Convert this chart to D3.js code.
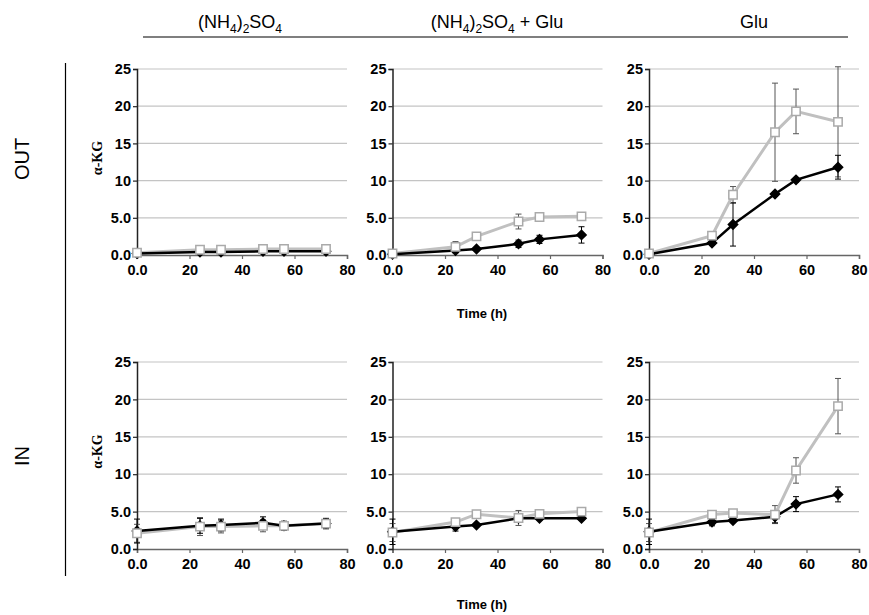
<!DOCTYPE html>
<html>
<head>
<meta charset="utf-8">
<script src="https://cdn.jsdelivr.net/npm/d3@7"></script>
<style>
  body { margin: 0; background: #fff; }
  svg { display: block; }
</style>
</head>
<body>
<div id="chart"></div>
<script>
// sampling times (h) and axis ticks
const times = [0, 24, 32, 48, 56, 72];
const xTicks = [0, 20, 40, 60, 80];
const yTicks = [0, 5, 10, 15, 20, 25];
const colHeaders = ["(NH4)2SO4", "(NH4)2SO4 + Glu", "Glu"];
const rowLabels = ["OUT", "IN"];

// OUT row
const outNH4Black = [0.2, 0.4, 0.4, 0.5, 0.5, 0.5];
const outNH4BlackErr = [0.05, 0.1, 0.1, 0.1, 0.1, 0.1];
const outNH4Grey = [0.3, 0.7, 0.7, 0.8, 0.8, 0.8];
const outNH4GreyErr = [0.05, 0.1, 0.1, 0.1, 0.1, 0.1];

const outMixBlack = [0.1, 0.6, 0.8, 1.5, 2.1, 2.7];
const outMixBlackErr = [0.05, 0.3, 0.2, 0.5, 0.55, 1.1];
const outMixGrey = [0.2, 1.1, 2.5, 4.5, 5.1, 5.2];
const outMixGreyErr = [0.05, 0.7, 0.2, 1.0, 0.2, 0.2];

const outGluBlack = [0.1, 1.6, 4.1, 8.2, 10.1, 11.8];
const outGluBlackErr = [0.05, 0.3, 2.9, 0.3, 0.3, 1.6];
const outGluGrey = [0.2, 2.6, 8.1, 16.5, 19.3, 17.9];
const outGluGreyErr = [0.05, 0.3, 1.1, 6.6, 3.0, 7.4];

// IN row
const inNH4Black = [2.4, 3.1, 3.2, 3.5, 3.1, 3.4];
const inNH4BlackErr = [1.6, 1.0, 0.8, 0.8, 0.6, 0.7];
const inNH4Grey = [2.1, 3.0, 3.0, 3.1, 3.1, 3.4];
const inNH4GreyErr = [1.2, 1.2, 0.85, 0.8, 0.6, 0.6];

const inMixBlack = [2.3, 3.0, 3.2, 4.1, 4.1, 4.1];
const inMixBlackErr = [1.7, 0.6, 0.2, 0.3, 0.2, 0.2];
const inMixGrey = [2.2, 3.6, 4.65, 4.15, 4.7, 5.0];
const inMixGreyErr = [1.2, 0.3, 0.2, 1.0, 0.2, 0.2];

const inGluBlack = [2.3, 3.6, 3.8, 4.3, 6.0, 7.3];
const inGluBlackErr = [1.7, 0.5, 0.2, 0.8, 1.0, 1.0];
const inGluGrey = [2.2, 4.6, 4.8, 4.6, 10.5, 19.1];
const inGluGreyErr = [1.2, 0.3, 0.2, 1.2, 1.7, 3.7];

const panels = [
    [[outNH4Black, outNH4BlackErr, outNH4Grey, outNH4GreyErr],
     [outMixBlack, outMixBlackErr, outMixGrey, outMixGreyErr],
     [outGluBlack, outGluBlackErr, outGluGrey, outGluGreyErr]],
    [[inNH4Black, inNH4BlackErr, inNH4Grey, inNH4GreyErr],
     [inMixBlack, inMixBlackErr, inMixGrey, inMixGreyErr],
     [inGluBlack, inGluBlackErr, inGluGrey, inGluGreyErr]]
];

const width = 869, height = 615;
const colX = [137, 392.5, 649];
const plotW = 210;
const rowY = [{top: 69, bottom: 255}, {top: 362, bottom: 549}];
const sans = "Liberation Sans, Arial, sans-serif";

const svg = d3.select("#chart").append("svg")
    .attr("width", width)
    .attr("height", height);

// column headers, digits in the salt formula are subscripts
const headerX = [240, 497, 754];
colHeaders.forEach((h, i) => {
    let t = svg.append("text")
        .attr("x", headerX[i])
        .attr("y", 28)
        .attr("text-anchor", "middle")
        .attr("font-family", sans)
        .attr("font-size", 18);
    if (h.startsWith("(NH4)2SO4")) {
        let pieces = [["(NH", 0], ["4", 1], [")", 0], ["2", 1], ["SO", 0], ["4", 1]];
        let rest = h.replace("(NH4)2SO4", "");
        if (rest) pieces.push([rest, 0]);
        let down = false;
        pieces.forEach(p => {
            let dy = 0;
            if (p[1] && !down) { dy = 5; down = true; }
            else if (!p[1] && down) { dy = -5; down = false; }
            t.append("tspan")
                .attr("font-size", p[1] ? 12 : 18)
                .attr("dy", dy)
                .text(p[0]);
        });
    } else {
        t.text(h);
    }
});

svg.append("line")
    .attr("x1", 143).attr("x2", 848)
    .attr("y1", 37).attr("y2", 37)
    .attr("stroke", "#000").attr("stroke-width", 1.2);

// row labels and divider
svg.append("line")
    .attr("x1", 65.5).attr("x2", 65.5)
    .attr("y1", 63).attr("y2", 576)
    .attr("stroke", "#000").attr("stroke-width", 1.2);

const rowLabelY = [159, 456];
rowLabels.forEach((r, i) => {
    svg.append("text")
        .attr("transform", `translate(29, ${rowLabelY[i]}) rotate(-90)`)
        .attr("text-anchor", "middle")
        .attr("font-family", sans)
        .attr("font-size", 20)
        .text(r);
});

panels.forEach((row, ri) => {
    row.forEach((p, ci) => {
        let x = d3.scaleLinear().domain([0, 80]).range([colX[ci], colX[ci] + plotW]);
        let y = d3.scaleLinear().domain([0, 25]).range([rowY[ri].bottom, rowY[ri].top]);
        let g = svg.append("g");

        // gridlines
        g.selectAll(".grid")
            .data(yTicks.filter(v => v > 0))
            .enter().append("line")
            .attr("x1", x(0)).attr("x2", x(80))
            .attr("y1", d => y(d)).attr("y2", d => y(d))
            .attr("stroke", "#c4c4c4").attr("stroke-width", 1.2);

        // x axis
        let xAxis = d3.axisBottom(x).tickValues(xTicks).tickSize(4).tickPadding(6)
            .tickFormat(d => d === 0 ? "0.0" : d);
        let xg = g.append("g")
            .attr("transform", `translate(0, ${y(0)})`)
            .call(xAxis);
        xg.select(".domain").attr("stroke", "#666").attr("stroke-width", 1.5);
        xg.selectAll(".tick line").attr("stroke", "#666").attr("stroke-width", 1.2);
        xg.selectAll("text")
            .attr("font-family", sans)
            .attr("font-weight", "bold")
            .attr("font-size", 14.5)
            .attr("fill", "#000");

        // y axis
        let yAxis = d3.axisLeft(y).tickValues(yTicks).tickSize(4).tickPadding(2)
            .tickFormat(d => d < 10 ? d.toFixed(1) : d);
        let yg = g.append("g")
            .attr("transform", `translate(${x(0)}, 0)`)
            .call(yAxis);
        yg.select(".domain").attr("stroke", "#222").attr("stroke-width", 1.5);
        yg.selectAll(".tick line").attr("stroke", "#222").attr("stroke-width", 1.2);
        yg.selectAll("text")
            .attr("font-family", sans)
            .attr("font-weight", "bold")
            .attr("font-size", 14.5)
            .attr("fill", "#000");

        if (ci === 0) {
            let cy = (rowY[ri].top + rowY[ri].bottom) / 2 - 4;
            svg.append("text")
                .attr("transform", `translate(102, ${cy}) rotate(-90)`)
                .attr("text-anchor", "middle")
                .attr("font-family", "Liberation Serif, Times New Roman, serif")
                .attr("font-weight", "bold")
                .attr("font-size", 14)
                .text("α-KG");
        }

        let [bv, be, gv, ge] = p;
        let series = [
            {vals: gv, err: ge, color: "#c0c0c0", errColor: "#555", lw: 3, sym: "square"},
            {vals: bv, err: be, color: "#000", errColor: "#000", lw: 2.5, sym: "diamond"}
        ];
        let line = d3.line().x((d, i) => x(times[i])).y(d => y(d));

        // error bars
        series.forEach(s => {
            let eb = g.append("g");
            s.vals.forEach((v, i) => {
                let cx = x(times[i]);
                let top = y(Math.min(25.5, v + s.err[i])), bot = y(Math.max(0, v - s.err[i]));
                eb.append("line").attr("x1", cx).attr("x2", cx).attr("y1", top).attr("y2", bot)
                    .attr("stroke", s.errColor).attr("stroke-width", 1);
                [top, bot].forEach(yy => {
                    eb.append("line").attr("x1", cx - 3).attr("x2", cx + 3).attr("y1", yy).attr("y2", yy)
                        .attr("stroke", s.errColor).attr("stroke-width", 1);
                });
            });
        });

        // lines
        series.forEach(s => {
            g.append("path")
                .datum(s.vals)
                .attr("d", line)
                .attr("fill", "none")
                .attr("stroke", s.color)
                .attr("stroke-width", s.lw);
        });

        // markers: diamonds then squares on top
        series.slice().reverse().forEach(s => {
            let sym = s.sym === "square"
                ? d3.symbol().type(d3.symbolSquare).size(70)
                : d3.symbol().type(d3.symbolDiamond2).size(55);
            g.selectAll(null)
                .data(s.vals)
                .enter().append("path")
                .attr("d", sym)
                .attr("transform", (d, i) => `translate(${x(times[i])}, ${y(d)})`)
                .attr("fill", s.sym === "square" ? "#fff" : "#000")
                .attr("stroke", s.sym === "square" ? "#aaa" : "#000")
                .attr("stroke-width", 1.5);
        });
    });
});

// x axis titles
[313, 604].forEach(ty => {
    svg.append("text")
        .attr("x", 482)
        .attr("y", ty + 5)
        .attr("text-anchor", "middle")
        .attr("font-family", sans)
        .attr("font-weight", "bold")
        .attr("font-size", 13)
        .text("Time (h)");
});
</script>
</body>
</html>
